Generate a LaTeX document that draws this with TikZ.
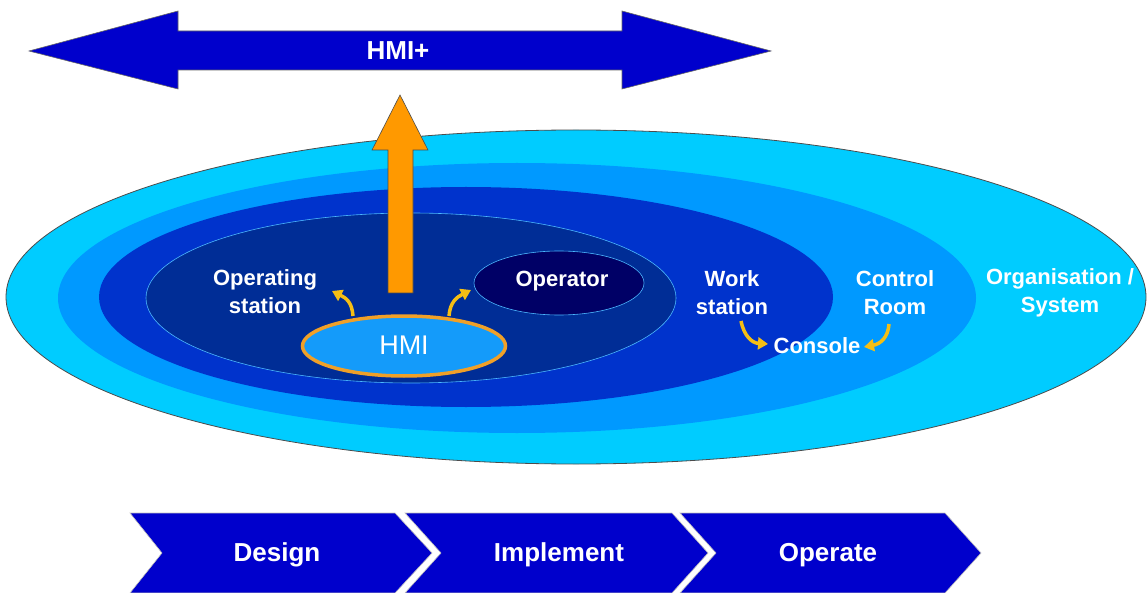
\documentclass[tikz,border=0pt]{standalone}
\usepackage{fontspec}
\setmainfont{Liberation Sans}
\usetikzlibrary{shapes.geometric,arrows.meta}
\definecolor{cOrg}{RGB}{0,204,255}
\definecolor{cRoom}{RGB}{0,153,255}
\definecolor{cWork}{RGB}{0,51,204}
\definecolor{cOpst}{RGB}{0,45,150}
\definecolor{cOper}{RGB}{0,0,102}
\definecolor{cHMI}{RGB}{20,155,250}
\definecolor{cRing}{RGB}{240,160,40}
\definecolor{cOrange}{RGB}{255,153,0}
\definecolor{cYellow}{RGB}{245,190,20}
\definecolor{cBlue}{RGB}{0,0,204}
\tikzset{
  ring/.style={ellipse,inner sep=0pt},
  lbl/.style={text=white,font=\bfseries\fontsize{22}{28}\selectfont,align=center,inner sep=0pt},
  biglbl/.style={text=white,font=\bfseries\fontsize{26}{30}\selectfont,inner sep=0pt},
  yarrow/.style={draw=cYellow,line width=3.5pt,-{Triangle[length=10pt,width=12pt]}},
  chev/.style={fill=cBlue,draw=gray!50,line width=0.6pt}
}
\begin{document}
\begin{tikzpicture}[x=1pt,y=-1pt]
\useasboundingbox (0,0) rectangle (1147,593);
\fill[white] (0,0) rectangle (1147,593);

% nested ellipses
\node[ring,fill=cOrg,draw=black!70,line width=0.8pt,minimum width=1140pt,minimum height=334pt] (org) at (576,297) {};
\node[ring,fill=cRoom,minimum width=918pt,minimum height=270pt] (room) at (517,298) {};
\node[ring,fill=cWork,minimum width=734pt,minimum height=220pt] (work) at (466,297) {};
\node[ring,fill=cOpst,draw=cRoom!70,line width=0.6pt,minimum width=530pt,minimum height=170pt] (opst) at (411,298) {};
\node[ring,fill=cOper,draw=cRoom!70,line width=0.6pt,minimum width=170pt,minimum height=64pt] (oper) at (559,283) {};
\node[ring,fill=cHMI,draw=cRing,line width=3.5pt,minimum width=203pt,minimum height=60pt] (hmi) at (404,346) {};

% orange arrow
\draw[fill=cOrange,draw=black!70,line width=0.6pt]
  (388,293) -- (388,150) -- (372,150) -- (400,95) -- (428,150) -- (413,150) -- (413,293) -- cycle;
\coordinate (orangetip) at (400,95);

% HMI+ double arrow
\draw[fill=cBlue,draw=black!60,line width=0.6pt]
  (29,51) -- (178,11) -- (178,31) -- (622,31) -- (622,11) -- (771,51)
  -- (622,89) -- (622,70) -- (178,70) -- (178,89) -- cycle;
\node[biglbl] (hmiplus) at (398,51) {HMI+};

% labels
\node[lbl] (lopst) at (265,292) {Operating\\station};
\node[lbl] (loper) at (562,281) {Operator};
\node[text=white,font=\fontsize{27}{30}\selectfont,inner sep=0pt] (lhmi) at (404,345) {HMI};
\node[lbl] (lwork) at (732,293) {Work\\station};
\node[lbl] (lroom) at (895,293) {Control\\Room};
\node[lbl] (lorg) at (1060,293) {Organisation /\\System};
\node[lbl] (lcons) at (817,346) {Console};

% small yellow arrows
\coordinate (y1s) at (353,316);
\coordinate (y1e) at (332,291);
\coordinate (y2s) at (449,316);
\coordinate (y2e) at (471,290);
\coordinate (y3s) at (741,321);
\coordinate (y3e) at (768,344);
\coordinate (y4s) at (889,324);
\coordinate (y4e) at (864,347);
\draw[yarrow] (y1s) .. controls (352,302) and (346,298) .. (y1e);
\draw[yarrow] (y2s) .. controls (450,302) and (457,297) .. (y2e);
\draw[yarrow] (y3s) .. controls (744,336) and (752,343) .. (y3e);
\draw[yarrow] (y4s) .. controls (888,338) and (880,344) .. (y4e);

% chevrons
\draw[chev] (130,513) -- (395,513) -- (432,553) -- (395,593) -- (130,593) -- (162,553) -- cycle;
\draw[chev] (405,513) -- (672,513) -- (708,553) -- (672,593) -- (405,593) -- (441,553) -- cycle;
\draw[chev] (680,513) -- (945,513) -- (981,553) -- (945,593) -- (680,593) -- (716,553) -- cycle;
\node[biglbl] (design) at (277,555) {Design};
\node[biglbl] (implement) at (559,555) {Implement};
\node[biglbl] (operate) at (828,555) {Operate};
\end{tikzpicture}
\end{document}
